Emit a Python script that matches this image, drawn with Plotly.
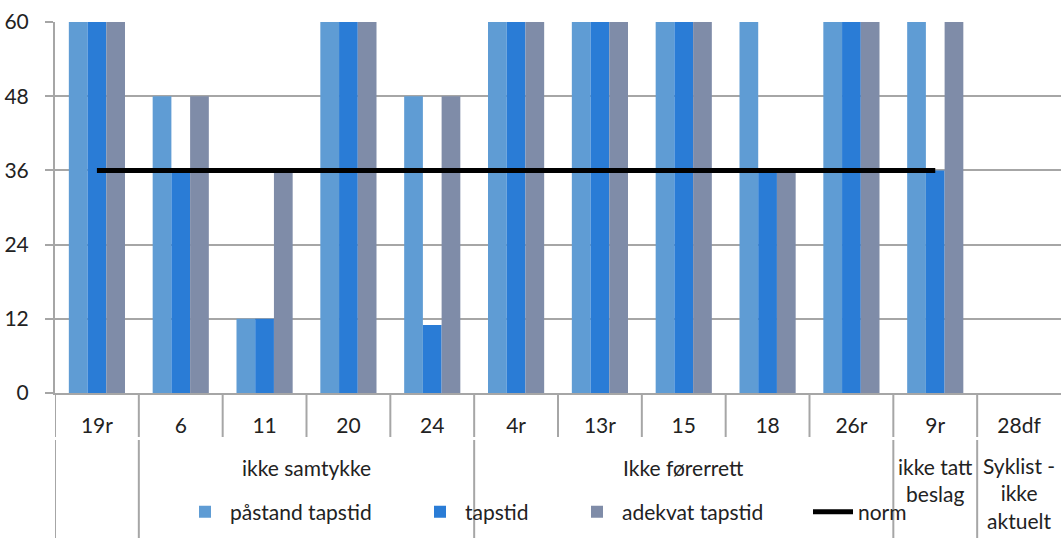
import plotly.graph_objects as go

categories = ["19r", "6", "11", "20", "24", "4r", "13r", "15", "18", "26r", "9r", "28df"]
pastand_tapstid = [60, 48, 12, 60, 48, 60, 60, 60, 60, 60, 60, None]
tapstid = [60, 36, 12, 60, 11, 60, 60, 60, 36, 60, 36, None]
adekvat_tapstid = [60, 48, 36, 60, 48, 60, 60, 60, 36, 60, 60, None]
norm = [36, 36, 36, 36, 36, 36, 36, 36, 36, 36, 36, None]

groups = [
    ("ikke samtykke", 1, 4),
    ("Ikke førerrett", 5, 9),
    ("ikke tatt<br>beslag", 10, 10),
    ("Syklist -<br>ikke<br>aktuelt", 11, 11),
]
group_edges = [-0.5, 0.5, 4.5, 9.5, 10.5]
y_ticks = [0, 12, 24, 36, 48, 60]

FONT = "Lato"
FS = 21
TXT = "#222222"
GRID = "#A6A6A6"

# plot geometry (pixels)
L, R, T, B = 55, 0, 22, 152
W, H = 1061, 545
H_PLOT = H - T - B
W_PLOT = W - L - R


def py(pix):
    return -(pix - (H - B)) / H_PLOT


def px(pix):
    return (pix - L) / W_PLOT


fig = go.Figure()
fig.add_trace(go.Bar(x=categories, y=pastand_tapstid, name="påstand tapstid",
                     marker=dict(color="#5F9CD4", line=dict(width=0)), legend="legend"))
fig.add_trace(go.Bar(x=categories, y=tapstid, name="tapstid",
                     marker=dict(color="#2A7CD6", line=dict(width=0)), legend="legend2"))
fig.add_trace(go.Bar(x=categories, y=adekvat_tapstid, name="adekvat tapstid",
                     marker=dict(color="#7F8CA8", line=dict(width=0)), legend="legend3"))
fig.add_trace(go.Scatter(x=categories, y=norm, name="norm", mode="lines",
                         line=dict(color="black", width=5), connectgaps=False, legend="legend4"))

shapes = []
for i in range(-1, len(categories) - 1):
    shapes.append(dict(type="line", xref="x", yref="paper", x0=i + 0.5, x1=i + 0.5,
                       y0=0, y1=py(437), line=dict(color=GRID, width=2)))
for e in group_edges:
    shapes.append(dict(type="line", xref="x", yref="paper", x0=e, x1=e,
                       y0=py(440), y1=py(538), line=dict(color=GRID, width=2)))

annotations = []
for label, a, b in groups:
    nlines = label.count("<br>") + 1
    annotations.append(dict(text=label, xref="x", yref="paper", x=(a + b) / 2,
                            y=py(467 + (nlines - 1) * 13), showarrow=False,
                            xanchor="center", yanchor="middle",
                            font=dict(family=FONT, size=FS, color=TXT)))


def leg(text_x):
    return dict(orientation="h", x=px(text_x - 50), y=py(512), xanchor="left", yanchor="middle",
                font=dict(family=FONT, size=FS, color=TXT), bgcolor="rgba(0,0,0,0)",
                itemwidth=40)


fig.update_layout(
    width=W, height=H,
    margin=dict(l=L, r=R, t=T, b=B),
    plot_bgcolor="white", paper_bgcolor="white",
    barmode="group", bargap=0.33, bargroupgap=0,
    font=dict(family=FONT, size=FS, color=TXT),
    shapes=shapes, annotations=annotations,
    legend=leg(230), legend2=leg(465), legend3=leg(622), legend4=leg(858),
    showlegend=True,
)
fig.update_xaxes(type="category", range=[-0.5, 11.5], showgrid=False, ticks="",
                 showline=True, linecolor=GRID, linewidth=2, ticklabelstandoff=13,
                 automargin=False, tickfont=dict(family=FONT, size=FS, color=TXT))
fig.update_yaxes(range=[0, 60], tickvals=y_ticks, showgrid=True, gridcolor=GRID, gridwidth=2,
                 showline=True, linecolor=GRID, linewidth=2, ticks="outside", ticklen=8,
                 tickcolor=GRID, tickwidth=2, ticklabelstandoff=12, zeroline=False,
                 automargin=False, tickfont=dict(family=FONT, size=FS, color=TXT))

fig.write_html("out.html", config={"displayModeBar": False},
               post_script="document.body.style.margin='0';document.body.style.overflow='hidden';")
